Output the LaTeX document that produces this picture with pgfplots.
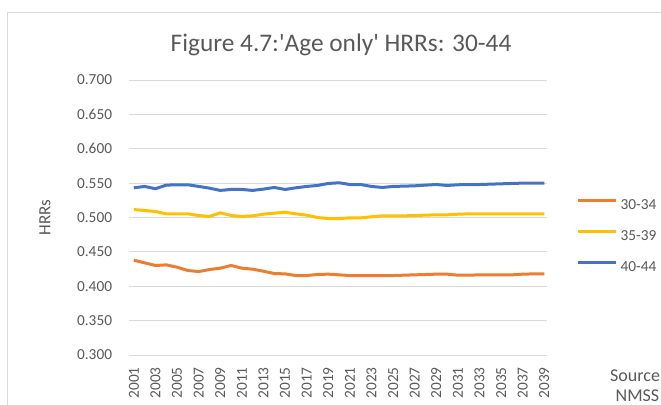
\documentclass[border=0pt]{standalone}
\usepackage{pgfplots}
\pgfplotsset{compat=1.18}
\usepackage{fontspec}
\setmainfont{Carlito}
\definecolor{txt}{HTML}{595959}
\definecolor{gridc}{HTML}{D9D9D9}
\definecolor{cor}{HTML}{ED7D31}
\definecolor{cye}{HTML}{FFC000}
\definecolor{cbl}{HTML}{4472C4}
\begin{document}
\begin{tikzpicture}
\useasboundingbox (0,0) rectangle (495.75pt,-303pt);
\clip (0,0) rectangle (495.75pt,-303pt);
% chart frame
\draw[gridc, line width=0.75pt] (5.25pt,-310pt) -- (5.25pt,-9pt) -- (500pt,-9pt);
% title
\node[txt, font=\fontsize{19}{21}\selectfont, anchor=center] at (255.75pt,-33.75pt) {Figure 4.7:\textquotesingle Age only\textquotesingle{} HRRs: 30-44};
% source
\node[txt, font=\fontsize{13.5}{15}\selectfont, anchor=base, inner sep=0pt] at (478.1pt,-285.75pt) {Source:};
\node[txt, font=\fontsize{13.5}{15}\selectfont, anchor=base, inner sep=0pt] at (478.1pt,-300.75pt) {NMSS};
\begin{axis}[
  at={(96.75pt,-266.25pt)}, anchor=south west,
  scale only axis, width=313.5pt, height=206.25pt,
  xmin=2000.55, xmax=2039.25,
  ymin=0.3, ymax=0.7,
  ytick={0.3,0.35,...,0.71},
  xtick={2001,2003,...,2039},
  axis line style={draw=none},
  tick style={draw=none},
  xmajorgrids=false,
  ymajorgrids=true,
  major grid style={draw=gridc, line width=0.75pt},
  yticklabel style={/pgf/number format/.cd, fixed, fixed zerofill, precision=3, /tikz/.cd},
  ticklabel style={txt, font=\fontsize{11.5}{13}\selectfont},
  /pgf/number format/assume math mode=true,
  xticklabel style={rotate=90, anchor=east, inner sep=0pt, /pgf/number format/1000 sep={}},
  xticklabel shift=9pt,
  yticklabel style={inner sep=0pt},
  yticklabel shift=12.5pt,
  ylabel={HRRs},
  ylabel style={txt, font=\fontsize{12.8}{14}\selectfont, at={(axis description cs:-0.201,0.5)}, anchor=center},
  legend style={draw=none, fill=none, at={(axis description cs:1.0717,0.4327)}, anchor=west,
    inner sep=0pt, outer sep=0pt, row sep=13.25pt, column sep=0pt,
    nodes={inner sep=0pt, text height=8pt, text depth=2pt, txt, font=\fontsize{11.5}{13}\selectfont}},
  legend cell align=left,
  legend image code/.code={\draw[#1, line width=2.25pt] (0pt,3.5pt) -- (28.5pt,3.5pt); \path (30.5pt,3.5pt);},
  every axis plot/.append style={line width=2.25pt, line join=round, mark=none},
]
\addplot[cor] coordinates {
(2001,0.4379)(2002,0.4340)(2003,0.4302)(2004,0.4311)(2005,0.4277)(2006,0.4229)(2007,0.4214)(2008,0.4243)(2009,0.4263)(2010,0.4302)
(2011,0.4263)(2012,0.4248)(2013,0.4219)(2014,0.4185)(2015,0.4180)(2016,0.4156)(2017,0.4156)(2018,0.4171)(2019,0.4176)(2020,0.4166)
(2021,0.4156)(2022,0.4156)(2023,0.4156)(2024,0.4156)(2025,0.4156)(2026,0.4161)(2027,0.4166)(2028,0.4171)(2029,0.4176)(2030,0.4176)
(2031,0.4161)(2032,0.4161)(2033,0.4166)(2034,0.4166)(2035,0.4166)(2036,0.4166)(2037,0.4176)(2038,0.4180)(2039,0.4180)};
\addlegendentry{30-34}
\addplot[cye] coordinates {
(2001,0.5116)(2002,0.5102)(2003,0.5087)(2004,0.5053)(2005,0.5053)(2006,0.5053)(2007,0.5029)(2008,0.5015)(2009,0.5068)(2010,0.5029)
(2011,0.5015)(2012,0.5024)(2013,0.5048)(2014,0.5063)(2015,0.5077)(2016,0.5053)(2017,0.5034)(2018,0.5000)(2019,0.4985)(2020,0.4985)
(2021,0.4995)(2022,0.4995)(2023,0.5010)(2024,0.5024)(2025,0.5024)(2026,0.5024)(2027,0.5029)(2028,0.5034)(2029,0.5039)(2030,0.5039)
(2031,0.5048)(2032,0.5053)(2033,0.5053)(2034,0.5053)(2035,0.5053)(2036,0.5053)(2037,0.5053)(2038,0.5053)(2039,0.5053)};
\addlegendentry{35-39}
\addplot[cbl] coordinates {
(2001,0.5432)(2002,0.5452)(2003,0.5418)(2004,0.5471)(2005,0.5476)(2006,0.5476)(2007,0.5452)(2008,0.5427)(2009,0.5394)(2010,0.5408)
(2011,0.5408)(2012,0.5394)(2013,0.5413)(2014,0.5437)(2015,0.5408)(2016,0.5432)(2017,0.5452)(2018,0.5466)(2019,0.5495)(2020,0.5505)
(2021,0.5480)(2022,0.5480)(2023,0.5452)(2024,0.5437)(2025,0.5452)(2026,0.5456)(2027,0.5461)(2028,0.5471)(2029,0.5480)(2030,0.5466)
(2031,0.5476)(2032,0.5480)(2033,0.5480)(2034,0.5485)(2035,0.5490)(2036,0.5495)(2037,0.5500)(2038,0.5500)(2039,0.5500)};
\addlegendentry{40-44}
\end{axis}
\end{tikzpicture}
\end{document}
